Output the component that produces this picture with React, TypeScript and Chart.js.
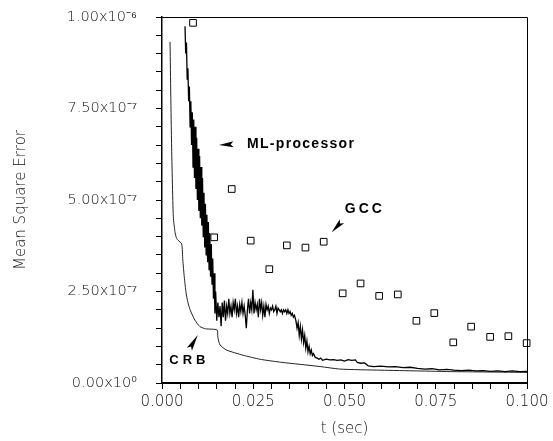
import React, { useEffect, useRef } from 'react';
import { Chart, registerables } from 'chart.js';
Chart.register(...registerables);

// ---- data (t in seconds, MSE values in units of 1e-6) ----
const gccT = [0.0085, 0.0143, 0.0191, 0.0243, 0.0294, 0.0342, 0.0393, 0.0443, 0.0495, 0.0544, 0.0595, 0.0646, 0.0697, 0.0746, 0.0798, 0.0847, 0.0899, 0.0949, 0.0999];
const gccV = [0.984, 0.398, 0.530, 0.389, 0.311, 0.376, 0.370, 0.386, 0.245, 0.272, 0.238, 0.242, 0.170, 0.191, 0.111, 0.154, 0.126, 0.128, 0.109];

const crbT = [0.0022, 0.0026, 0.0031, 0.0036, 0.0040, 0.0044, 0.0054, 0.0057, 0.0061, 0.0066, 0.0071, 0.0077, 0.0090, 0.0104, 0.0120, 0.0151, 0.0153, 0.0159, 0.0177, 0.0222, 0.0268, 0.0323, 0.0378, 0.0433, 0.0488, 0.0600, 0.0700, 0.0800, 0.0900, 0.1000];
const crbV = [0.932, 0.664, 0.454, 0.410, 0.395, 0.390, 0.380, 0.336, 0.290, 0.246, 0.220, 0.200, 0.172, 0.154, 0.148, 0.145, 0.125, 0.104, 0.090, 0.076, 0.065, 0.057, 0.051, 0.045, 0.038, 0.035, 0.033, 0.031, 0.030, 0.029];

const mlT = [
  0.0063, 0.0065, 0.0067, 0.0069, 0.0071, 0.0073, 0.0075, 0.0077, 0.0079, 0.0081,
  0.0083, 0.0085, 0.0087, 0.0089, 0.0091, 0.0093, 0.0095, 0.0097, 0.0099, 0.0101,
  0.0103, 0.0105, 0.0107, 0.0109, 0.0111, 0.0113, 0.0115, 0.0117, 0.0119, 0.0121,
  0.0123, 0.0125, 0.0127, 0.0129, 0.0131, 0.0133, 0.0135, 0.0137, 0.0139, 0.0141,
  0.0143, 0.0145, 0.0147,
  0.0150, 0.0153, 0.0156, 0.0159, 0.0162, 0.0165, 0.0168, 0.0171, 0.0174, 0.0177,
  0.0180, 0.0183, 0.0186, 0.0189, 0.0192, 0.0195, 0.0198, 0.0201, 0.0204, 0.0207,
  0.0210, 0.0213, 0.0216, 0.0219, 0.0222, 0.0225, 0.0228, 0.0231, 0.0234, 0.0237,
  0.0240, 0.0243, 0.0246, 0.0249, 0.0252, 0.0255, 0.0258, 0.0261, 0.0264, 0.0267,
  0.0270, 0.0273, 0.0276, 0.0279, 0.0282, 0.0285, 0.0288, 0.0291, 0.0294, 0.0297,
  0.0300, 0.0303, 0.0306, 0.0309, 0.0312, 0.0315, 0.0318, 0.0321, 0.0324, 0.0327,
  0.0330, 0.0333, 0.0336, 0.0339, 0.0342, 0.0345, 0.0348, 0.0351, 0.0354, 0.0357,
  0.0360, 0.0363,
  0.0367, 0.0370, 0.0373, 0.0376, 0.0379, 0.0382, 0.0385, 0.0388, 0.0391, 0.0394,
  0.0397, 0.0400, 0.0403, 0.0406, 0.0409, 0.0412, 0.0415, 0.0420, 0.0425, 0.0430,
  0.0435, 0.0440, 0.0450, 0.0460, 0.0470, 0.0480, 0.0490, 0.0500, 0.0510, 0.0520,
  0.0530, 0.0535, 0.0545, 0.0555, 0.0565, 0.0580, 0.0600, 0.0620, 0.0640, 0.0660,
  0.0680, 0.0700, 0.0720, 0.0740, 0.0760, 0.0780, 0.0800, 0.0820, 0.0840, 0.0860,
  0.0880, 0.0900, 0.0920, 0.0940, 0.0960, 0.0980, 0.1000,
];
const mlV = [
  0.975, 0.90, 0.93, 0.83, 0.86, 0.77, 0.81, 0.70, 0.77, 0.65,
  0.74, 0.59, 0.72, 0.56, 0.70, 0.53, 0.67, 0.50, 0.64, 0.47,
  0.62, 0.45, 0.59, 0.43, 0.56, 0.40, 0.52, 0.37, 0.49, 0.35,
  0.46, 0.33, 0.44, 0.31, 0.41, 0.29, 0.38, 0.27, 0.34, 0.23,
  0.30, 0.19, 0.25,
  0.17, 0.22, 0.18, 0.21, 0.155, 0.22, 0.18, 0.225, 0.17, 0.21,
  0.19, 0.23, 0.19, 0.21, 0.18, 0.22, 0.20, 0.23, 0.19, 0.21,
  0.18, 0.215, 0.195, 0.22, 0.19, 0.21, 0.185, 0.15, 0.20, 0.23,
  0.19, 0.22, 0.20, 0.255, 0.19, 0.22, 0.20, 0.215, 0.18, 0.23,
  0.20, 0.22, 0.185, 0.21, 0.18, 0.215, 0.20, 0.21, 0.19, 0.205,
  0.20, 0.21, 0.195, 0.20, 0.21, 0.19, 0.205, 0.20, 0.195, 0.20,
  0.19, 0.20, 0.195, 0.20, 0.19, 0.20, 0.19, 0.195, 0.185, 0.19,
  0.18, 0.185,
  0.17, 0.15, 0.165, 0.13, 0.155, 0.12, 0.145, 0.11, 0.13, 0.095,
  0.115, 0.085, 0.10, 0.08, 0.09, 0.075, 0.08, 0.07, 0.068, 0.065,
  0.068, 0.062, 0.065, 0.063, 0.064, 0.062, 0.063, 0.060, 0.064, 0.062,
  0.063, 0.056, 0.054, 0.055, 0.047, 0.045, 0.046, 0.044, 0.045, 0.042,
  0.043, 0.040, 0.038, 0.039, 0.036, 0.037, 0.035, 0.034, 0.035, 0.033,
  0.034, 0.032, 0.033, 0.031, 0.033, 0.031, 0.032,
];

const xTickLabels = ['0.000', '0.025', '0.050', '0.075', '0.100'];
const yTickLabels = ['0.00x10\u2070', '2.50x10\u207B\u2077', '5.00x10\u207B\u2077', '7.50x10\u207B\u2077', '1.00x10\u207B\u2076'];

const xTitle = 't (sec)';
const yTitle = 'Mean Square Error';

// annotation texts and their anchor points (data coordinates)
const noteTexts = ['ML-processor', 'GCC', 'CRB'];
const noteAnchors = [
  { t: 0.0233, v: 0.653 },
  { t: 0.0501, v: 0.474 },
  { t: 0.0020, v: 0.061 },
];
const arrowTips = [
  { t: 0.0156, v: 0.650 },
  { t: 0.0465, v: 0.412 },
  { t: 0.0098, v: 0.131 },
];
const arrowBases = [
  { t: 0.0196, v: 0.652 },
  { t: 0.0493, v: 0.442 },
  { t: 0.0075, v: 0.092 },
];

const UNIT = 1e-6;
const pts = (ts: number[], vs: number[]) => ts.map((t, i) => ({ x: t, y: vs[i] * UNIT }));

const notesPlugin = {
  id: 'notes',
  afterDatasetsDraw(chart: any) {
    const { ctx, chartArea, scales } = chart;
    const xs = scales.x, ys = scales.y;
    ctx.save();
    // frame (top & right)
    ctx.strokeStyle = '#000';
    ctx.lineWidth = 1;
    ctx.beginPath();
    ctx.moveTo(chartArea.left, chartArea.top + 0.5);
    ctx.lineTo(chartArea.right + 0.5, chartArea.top + 0.5);
    ctx.lineTo(chartArea.right + 0.5, chartArea.bottom);
    ctx.stroke();
    // arrows
    ctx.fillStyle = '#000';
    for (let i = 0; i < arrowTips.length; i++) {
      const tx = xs.getPixelForValue(arrowTips[i].t), ty = ys.getPixelForValue(arrowTips[i].v * UNIT);
      const bx = xs.getPixelForValue(arrowBases[i].t), by = ys.getPixelForValue(arrowBases[i].v * UNIT);
      const dx = bx - tx, dy = by - ty;
      const len = Math.hypot(dx, dy);
      const nx = -dy / len, ny = dx / len;
      const hw = 3;
      ctx.beginPath();
      ctx.moveTo(tx, ty);
      ctx.lineTo(bx + nx * hw, by + ny * hw);
      ctx.lineTo(tx + dx * 0.8, ty + dy * 0.8);
      ctx.lineTo(bx - nx * hw, by - ny * hw);
      ctx.closePath();
      ctx.fill();
    }
    // texts
    const sizes = [14, 14, 13];
    const spacings = ['1.3px', '3px', '4px'];
    ctx.textAlign = 'left';
    ctx.textBaseline = 'middle';
    for (let i = 0; i < noteTexts.length; i++) {
      ctx.font = `bold ${sizes[i]}px "Liberation Sans", Arial, sans-serif`;
      ctx.letterSpacing = spacings[i];
      const x = xs.getPixelForValue(noteAnchors[i].t);
      const y = ys.getPixelForValue(noteAnchors[i].v * UNIT);
      ctx.fillText(noteTexts[i], x, y);
    }
    ctx.restore();
  },
};

export default function App() {
  const ref = useRef<HTMLCanvasElement>(null);
  useEffect(() => {
    if (!ref.current) return;
    const fam = '"DejaVu Sans", sans-serif';
    const chart = new Chart(ref.current, {
      type: 'line',
      data: {
        datasets: [
          {
            label: 'GCC',
            data: pts(gccT, gccV),
            showLine: false,
            pointStyle: 'rect',
            pointRadius: 4.7,
            pointBorderWidth: 1,
            pointBorderColor: '#000',
            pointBackgroundColor: '#fff',
            borderColor: '#000',
            backgroundColor: '#fff',
            clip: false as any,
          },
          {
            label: 'ML-processor',
            data: pts(mlT, mlV),
            borderColor: '#000',
            borderWidth: 1.3,
            pointRadius: 0,
            tension: 0,
            fill: false,
          },
          {
            label: 'CRB',
            data: pts(crbT, crbV),
            borderColor: '#222',
            borderWidth: 1,
            pointRadius: 0,
            tension: 0.2,
            fill: false,
          },
        ],
      },
      options: {
        animation: false,
        responsive: false,
        devicePixelRatio: 1,
        layout: { padding: { left: 0, right: 26, top: 17, bottom: 0 } },
        plugins: { legend: { display: false }, tooltip: { enabled: false } },
        scales: {
          x: {
            type: 'linear',
            min: 0,
            max: 0.1,
            afterBuildTicks: (s: any) => {
              s.ticks = Array.from({ length: 21 }, (_, i) => ({ value: i * 0.005 }));
            },
            afterFit: (s: any) => {
              s.height = 58;
              s.paddingLeft = 0;
              s.paddingRight = 0;
            },
            grid: { display: true, drawOnChartArea: false, drawTicks: true, tickLength: 6, tickColor: '#000', tickWidth: 1 },
            border: { display: true, color: '#000', width: 2 },
            ticks: {
              autoSkip: false,
              maxRotation: 0,
              padding: 4,
              color: '#111',
              font: { family: fam, size: 15, weight: '200' },
              callback: (_v: any, i: number) => (i % 5 === 0 ? xTickLabels[i / 5] : ''),
            },
            title: { display: true, text: xTitle, color: '#111', font: { family: fam, size: 15, weight: '200' }, padding: { top: 0, bottom: 3 } },
          },
          y: {
            type: 'linear',
            min: 0,
            max: 1 * UNIT,
            afterBuildTicks: (s: any) => {
              s.ticks = Array.from({ length: 21 }, (_, i) => ({ value: i * 0.05 * UNIT }));
            },
            afterFit: (s: any) => {
              s.width = 162;
              s.paddingTop = 0;
              s.paddingBottom = 0;
            },
            grid: { display: true, drawOnChartArea: false, drawTicks: true, tickLength: 6, tickColor: '#000', tickWidth: 1 },
            border: { display: true, color: '#000', width: 1.5 },
            ticks: {
              autoSkip: false,
              padding: 19,
              color: '#111',
              font: { family: fam, size: 14.5, weight: '200' },
              callback: (_v: any, i: number) => (i % 5 === 0 ? yTickLabels[i / 5] : ''),
            },
            title: { display: true, text: yTitle, color: '#111', font: { family: fam, size: 15, weight: '200' }, padding: { top: 12, bottom: 0 } },
          },
        },
      },
      plugins: [notesPlugin],
    } as any);
    return () => chart.destroy();
  }, []);
  return (
    <div style={{ position: 'fixed', left: 0, top: 0, width: 553, height: 441, background: '#fff' }}>
      <canvas ref={ref} width={553} height={441} style={{ display: 'block', width: 553, height: 441 }} />
    </div>
  );
}
